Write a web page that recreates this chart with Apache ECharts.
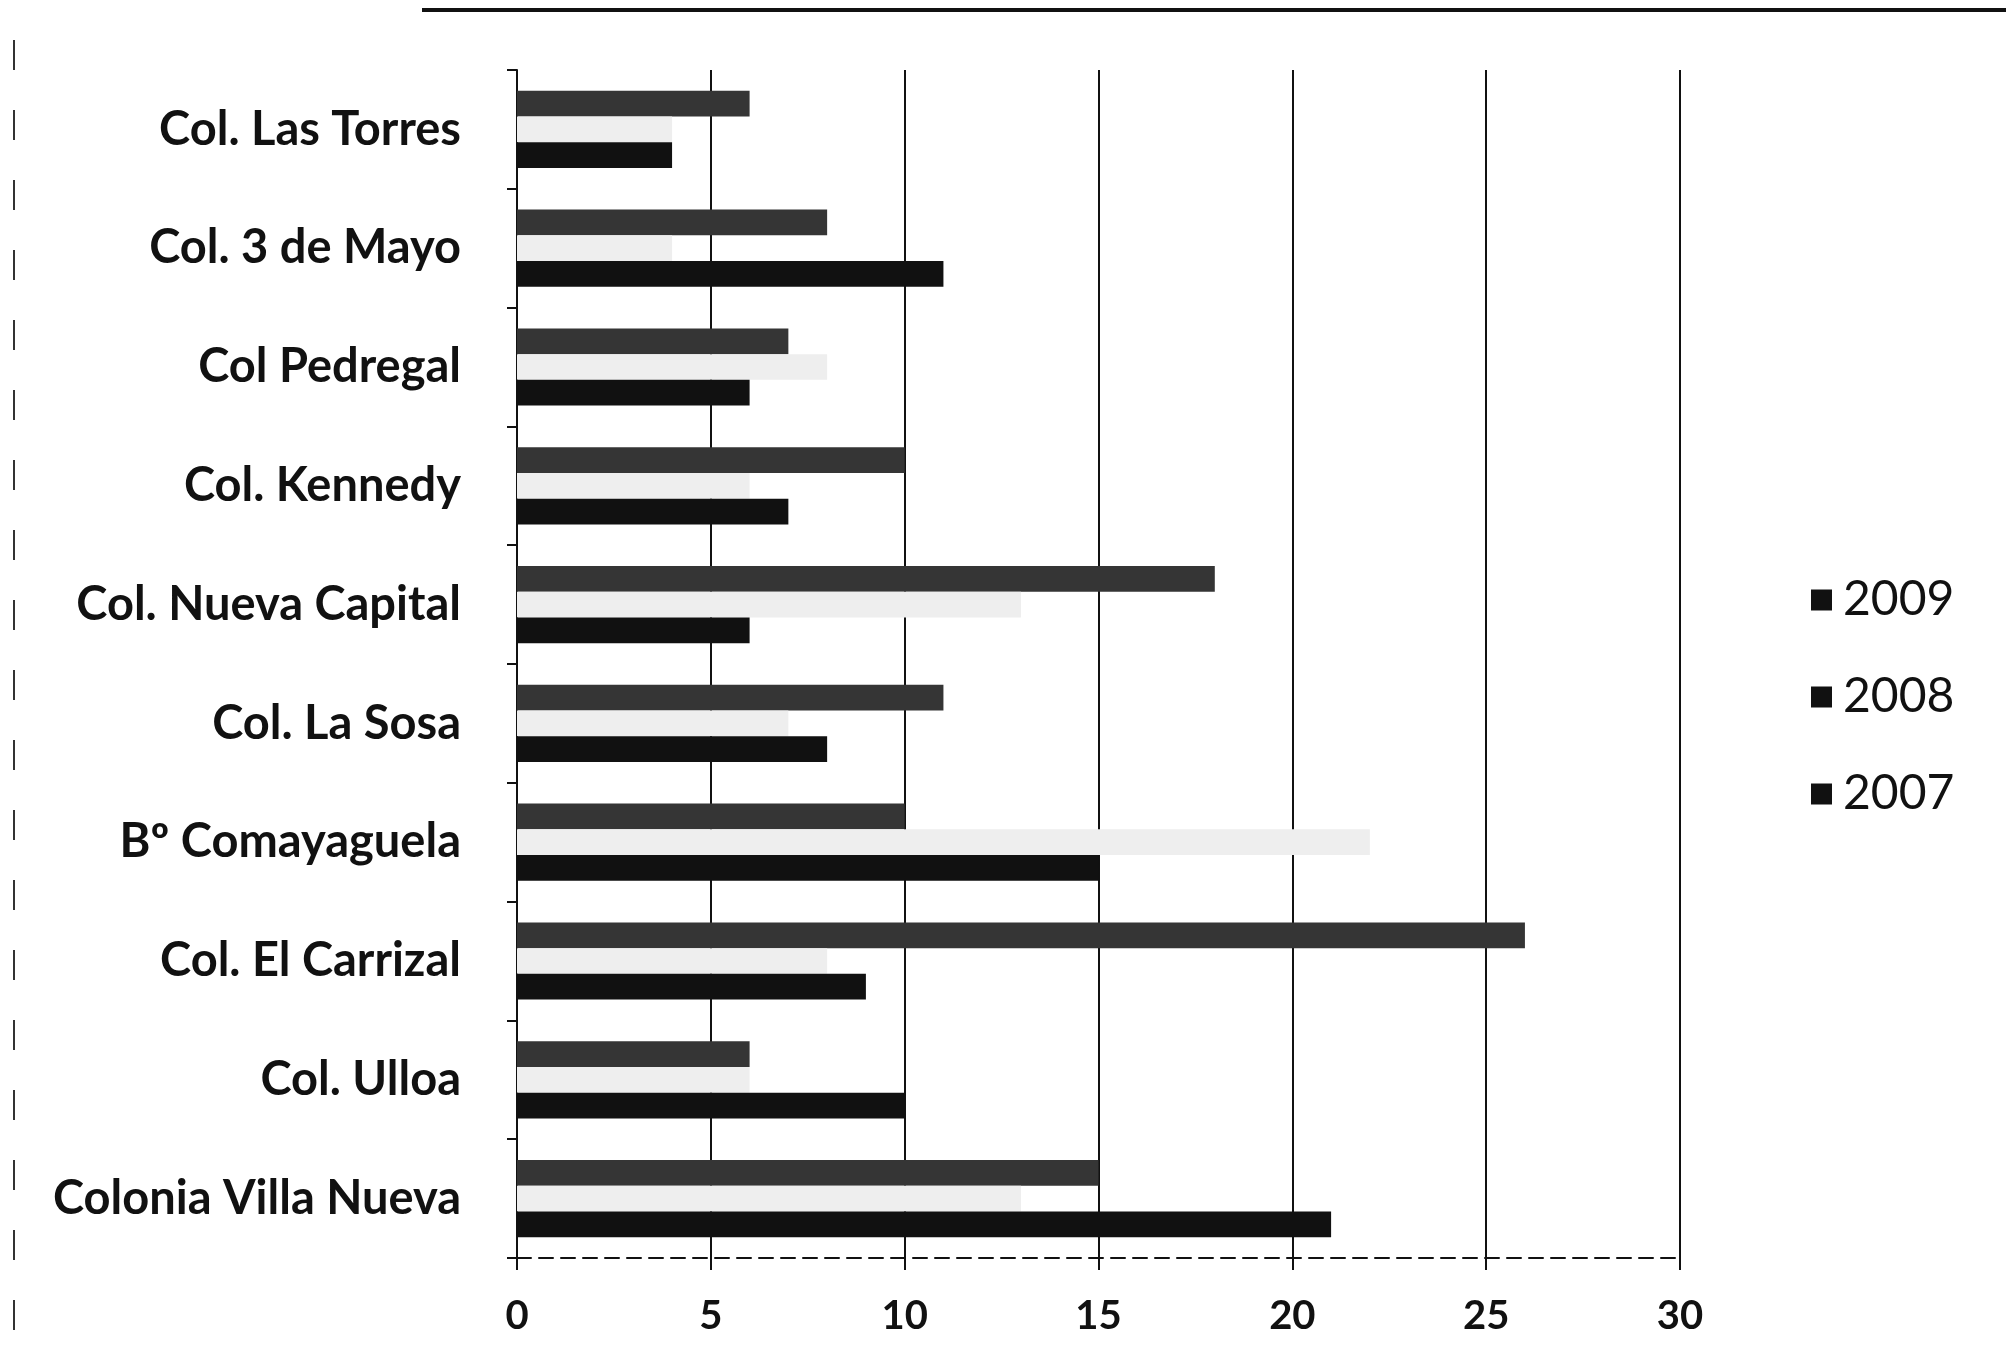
<!DOCTYPE html>
<html>
<head>
<meta charset="utf-8">
<script src="https://cdn.jsdelivr.net/npm/echarts@6/dist/echarts.min.js"></script>
<style>
  html, body { margin: 0; padding: 0; background: #fff; }
  #main { width: 2006px; height: 1367px; }
</style>
</head>
<body>
<div id="main"></div>
<script>
var categories = ['Col. Las Torres', 'Col. 3 de Mayo', 'Col Pedregal', 'Col. Kennedy', 'Col. Nueva Capital',
    'Col. La Sosa', 'Bº Comayaguela', 'Col. El Carrizal', 'Col. Ulloa', 'Colonia Villa Nueva'];
var years = ['2009', '2008', '2007'];
var v2009 = [6, 8, 7, 10, 18, 11, 10, 26, 6, 15];
var v2008 = [4, 4, 8, 6, 13, 7, 22, 8, 6, 13];
var v2007 = [4, 11, 6, 7, 6, 8, 15, 9, 10, 21];
var xTicks = { min: 0, max: 30, interval: 5 };

var myChart = echarts.init(document.getElementById('main'));
var font = 'Lato';

// colores de las barras (escaneado: 2009 gris oscuro, 2008 casi blanco, 2007 negro)
var colors = ['#353535', '#eeeeee', '#111111'];

var option = {
    backgroundColor: '#ffffff',
    animation: false,
    grid: { left: 517, right: 326, top: 70, bottom: 109 },
    legend: {
        orient: 'vertical',
        left: 1806,
        top: 571,
        itemWidth: 21,
        itemHeight: 21,
        itemGap: 49,
        icon: 'rect',
        data: years.map(function (y) {
            return { name: y, itemStyle: { color: '#111' } };
        }),
        textStyle: { fontFamily: font, fontSize: 48, color: '#111', padding: [0, 0, 0, 6] }
    },
    xAxis: {
        type: 'value',
        min: xTicks.min,
        max: xTicks.max,
        interval: xTicks.interval,
        axisLine: { show: true, lineStyle: { color: '#111', width: 2, type: [14, 8] } },
        axisTick: { show: true, length: 12, lineStyle: { color: '#111', width: 2 } },
        axisLabel: { fontFamily: font, fontSize: 40, fontWeight: 'bold', color: '#111', margin: 38 },
        splitLine: { show: true, lineStyle: { color: '#111', width: 2 } }
    },
    yAxis: {
        type: 'category',
        inverse: true,
        data: categories,
        axisLine: { show: true, lineStyle: { color: '#111', width: 2 } },
        axisTick: { show: true, length: 10, lineStyle: { color: '#111', width: 2 } },
        axisLabel: { fontFamily: font, fontSize: 47, fontWeight: 'bold', color: '#111', margin: 56 }
    },
    series: [
        { name: '2009', type: 'bar', data: v2009, barGap: '0%', barCategoryGap: '35%', itemStyle: { color: colors[0] } },
        { name: '2008', type: 'bar', data: v2008, itemStyle: { color: colors[1] } },
        { name: '2007', type: 'bar', data: v2007, itemStyle: { color: colors[2] } }
    ],
    graphic: [
        // raya superior y borde izquierdo del escaneo
        { type: 'line', shape: { x1: 422, y1: 10, x2: 2006, y2: 10 }, style: { stroke: '#111', lineWidth: 4 } },
        { type: 'line', shape: { x1: 14, y1: 40, x2: 14, y2: 1367 }, style: { stroke: '#333', lineWidth: 2, lineDash: [30, 40] } }
    ]
};
myChart.setOption(option);
</script>
</body>
</html>
